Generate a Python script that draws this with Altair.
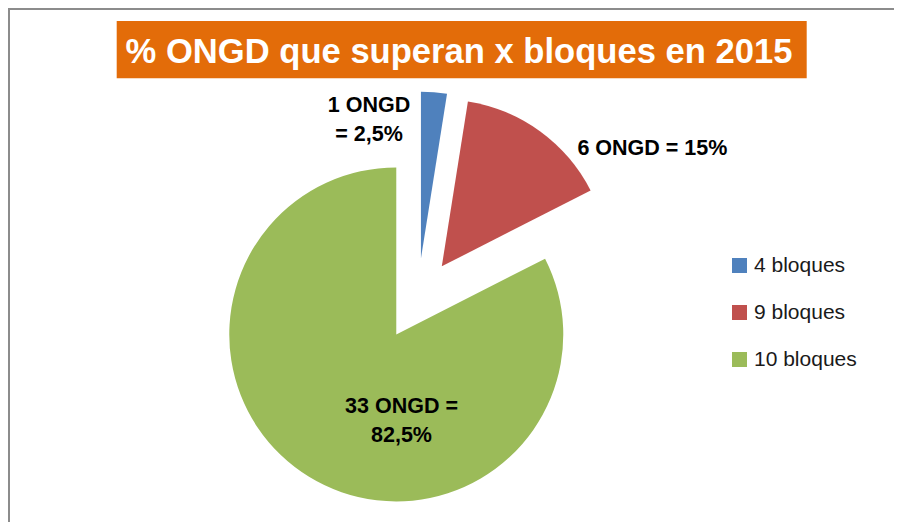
import math
import altair as alt
import pandas as pd

# ---- data ----
CATEGORIES = ["4 bloques", "9 bloques", "10 bloques"]
COUNTS = [1, 6, 33]
LABELS = ["1 ONGD\n= 2,5%", "6 ONGD = 15%", "33 ONGD =\n82,5%"]
COLORS = ["#4F81BD", "#C0504D", "#9BBB59"]
TITLE = "% ONGD que superan x bloques en 2015"

# ---- layout ----
W, H = 886, 514
CX, CY = 409.7, 291.5          # pie centre (px, view coords)
R = 167                         # pie radius
EXPLODE = 41                    # explosion distance
LABEL_POLAR = [(344.8, 185.6), (57.4, 278.6), (187.6, 122.6)]  # (angle deg, distance)
LINE_H = 29
FONT = "Liberation Sans, Arial, sans-serif"

total = sum(COUNTS)
rows = []
acc = 0.0
for cat, c, lab, (la, ld) in zip(CATEGORIES, COUNTS, LABELS, LABEL_POLAR):
    t0 = acc / total * 2 * math.pi
    acc += c
    t1 = acc / total * 2 * math.pi
    mid = (t0 + t1) / 2
    nlines = lab.count("\n") + 1
    rows.append({
        "cat": cat, "count": c, "t0": t0, "t1": t1,
        "cx": CX + EXPLODE * math.sin(mid), "cy": CY - EXPLODE * math.cos(mid),
        "lx": CX + ld * math.sin(math.radians(la)),
        "ly": CY - ld * math.cos(math.radians(la)) - (nlines - 1) * LINE_H / 2,
        "label": lab,
    })
df = pd.DataFrame(rows)
one = alt.InlineData(values=[{"k": 1}])

border_top = alt.Chart(one).mark_rule(color="#8c8c8c", strokeWidth=2).encode(
    x=alt.value(0), x2=alt.value(W), y=alt.value(1))
border_left = alt.Chart(one).mark_rule(color="#8c8c8c", strokeWidth=2).encode(
    x=alt.value(1), y=alt.value(0), y2=alt.value(H))

title_box = alt.Chart(one).mark_rect(color="#E36C09").encode(
    x=alt.value(108.7), x2=alt.value(798.7), y=alt.value(13), y2=alt.value(70.3))
title_text = alt.Chart(one).mark_text(
    font=FONT, fontWeight="bold", fontSize=34.6, color="white",
    align="center", baseline="alphabetic").encode(
    x=alt.value(451), y=alt.value(55), text=alt.value(TITLE))

arcs = alt.Chart(df).mark_arc(radius=R).encode(
    theta=alt.Theta("t0:Q", scale=None),
    theta2="t1:Q",
    x=alt.X("cx:Q", scale=None),
    y=alt.Y("cy:Q", scale=None),
    color=alt.Color("cat:N", scale=alt.Scale(domain=CATEGORIES, range=COLORS),
                    legend=alt.Legend(title=None, orient="none", legendX=721, legendY=247,
                                      symbolType="square", symbolSize=225, symbolStrokeWidth=0,
                                      labelFontSize=21, labelFont=FONT,
                                      labelColor="#1a1a1a", rowPadding=25, labelOffset=4)),
)

labels = alt.Chart(df).mark_text(
    font=FONT, fontWeight="bold", fontSize=21.5, lineBreak="\n", lineHeight=LINE_H,
    align="center", baseline="middle", color="black").encode(
    x=alt.X("lx:Q", scale=None), y=alt.Y("ly:Q", scale=None), text="label:N")

chart = alt.layer(border_top, border_left, title_box, title_text, arcs, labels).properties(
    width=W, height=H, autosize="none", padding=0
).configure_view(stroke=None)

chart.save("out.html", embed_options={"renderer": "svg", "actions": False})
